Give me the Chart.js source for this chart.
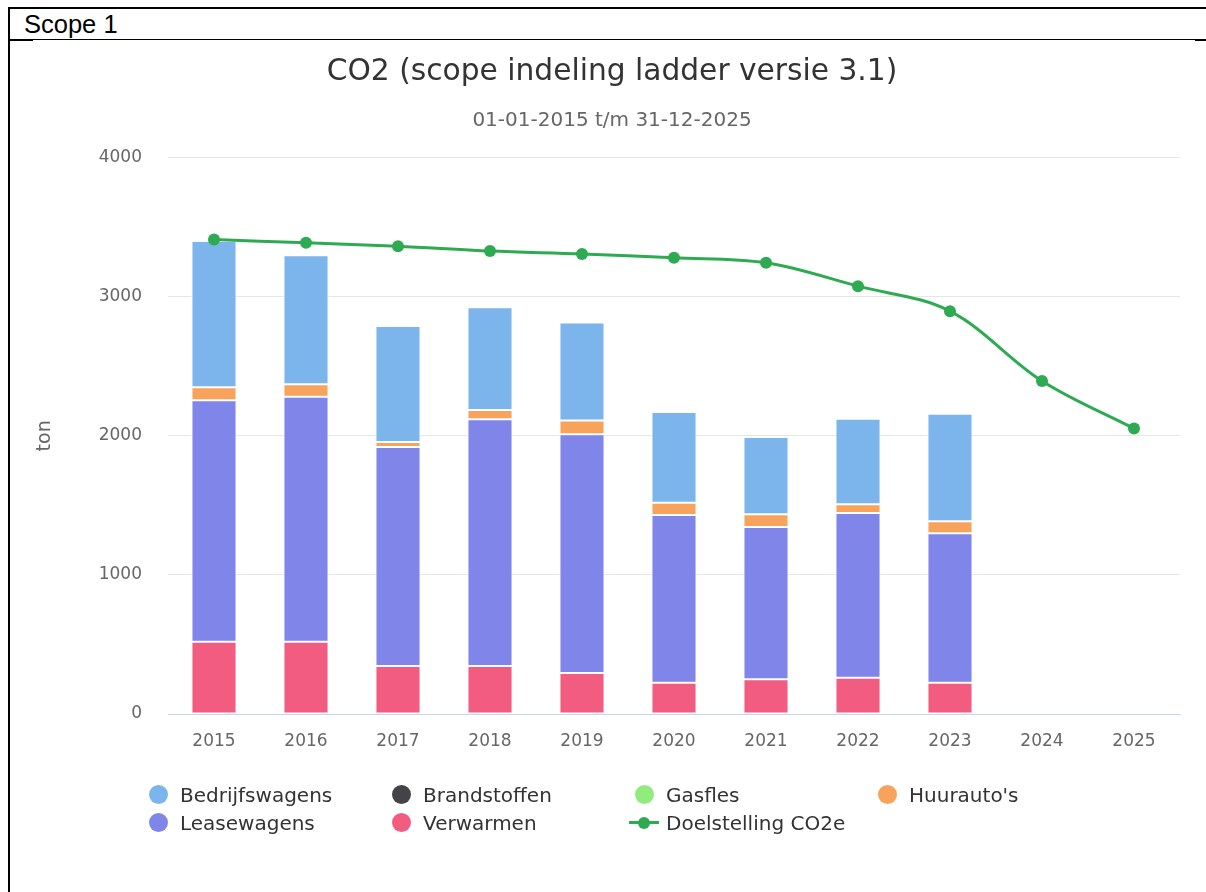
<!DOCTYPE html>
<html>
<head>
<meta charset="utf-8">
<script src="https://cdn.jsdelivr.net/npm/chart.js@4.4.0/dist/chart.umd.min.js"></script>
<style>
	body { margin: 0; background: #fff; width: 1206px; height: 892px; overflow: hidden; position: relative; font-family: "DejaVu Sans", sans-serif; }
	.line { position: absolute; background: #000; }
	#scope { position: absolute; left: 24px; top: 9px; font-family: "Liberation Sans", Arial, sans-serif; font-size: 25.5px; color: #000; line-height: 30px; }
	#wrap { position: absolute; left: 10px; top: 41px; width: 1196px; height: 851px; }
	.item { position: absolute; height: 28px; line-height: 28px; font-size: 20px; color: #333; white-space: nowrap; }
	.dot { position: absolute; width: 19px; height: 19px; border-radius: 50%; left: -9px; top: 4px; }
	.lineMark { position: absolute; width: 30px; height: 3px; left: -15px; top: 12px; }
	.lineMark span { position: absolute; width: 12px; height: 12px; border-radius: 50%; left: 9px; top: -4.5px; }
	.item .txt { position: absolute; left: 22px; top: 0; }
</style>
</head>
<body>
<div class="line" style="left:8px;top:7px;width:1198px;height:2px"></div>
<div class="line" style="left:8px;top:7px;width:2px;height:885px"></div>
<div class="line" style="left:10px;top:39px;width:1186px;height:1px"></div>
<div class="line" style="left:10px;top:40px;width:23px;height:1px"></div>
<div class="line" style="left:1195px;top:39px;width:11px;height:2px"></div>
<div id="scope">Scope 1</div>
<div id="wrap"><canvas id="co2Chart"></canvas></div>
<div id="legend"></div>

<script>
// Data (ton CO2)
const jaren = ["2015", "2016", "2017", "2018", "2019", "2020", "2021", "2022", "2023", "2024", "2025"];
const verwarmen = [520, 520, 345, 345, 295, 225, 250, 260, 225, null, null];
const leasewagens = [1735, 1760, 1575, 1775, 1716, 1205, 1095, 1186, 1075, null, null];
const gasfles = [0, 0, 0, 0, 0, 0, 0, 0, 0, null, null];
const brandstoffen = [0, 0, 0, 0, 0, 0, 0, 0, 0, null, null];
const huurautos = [95, 90, 36, 65, 100, 89, 91, 62, 86, null, null];
const bedrijfswagens = [1050, 928, 834, 739, 704, 653, 555, 615, 773, null, null];
const doelstelling = [3411, 3388, 3363, 3328, 3308, 3280, 3244, 3076, 2896, 2394, 2052];
const yTicks = [0, 1000, 2000, 3000, 4000];

const kleuren = {
	"Bedrijfswagens": "#7cb5ec",
	"Brandstoffen": "#434348",
	"Gasfles": "#90ed7d",
	"Huurauto's": "#f7a35c",
	"Leasewagens": "#8085e9",
	"Verwarmen": "#f15c80",
	"Doelstelling CO2e": "#2eaa52",
};

// Volgorde van de legenda (zoals in het origineel)
const legendaVolgorde = ["Bedrijfswagens", "Brandstoffen", "Gasfles", "Huurauto's", "Leasewagens", "Verwarmen", "Doelstelling CO2e"];

Chart.defaults.font.family = "'DejaVu Sans', sans-serif";

function bar(label, data) {
	return {
		type: "bar",
		label: label,
		data: data,
		backgroundColor: kleuren[label],
		borderColor: "#ffffff",
		borderWidth: 1,
		borderSkipped: false,
		barPercentage: 0.49,
		categoryPercentage: 1,
		order: 1,
	};
}

const ctx = document.getElementById("co2Chart").getContext("2d");

const chart = new Chart(ctx, {
	data: {
		labels: jaren,
		datasets: [
			{
				type: "line",
				label: "Doelstelling CO2e",
				data: doelstelling,
				borderColor: kleuren["Doelstelling CO2e"],
				backgroundColor: kleuren["Doelstelling CO2e"],
				borderWidth: 3,
				pointRadius: 6,
				pointBorderWidth: 0,
				tension: 0.35,
				stack: "doel",
				order: 0,
			},
			bar("Verwarmen", verwarmen),
			bar("Leasewagens", leasewagens),
			bar("Gasfles", gasfles),
			bar("Brandstoffen", brandstoffen),
			bar("Huurauto's", huurautos),
			bar("Bedrijfswagens", bedrijfswagens),
		],
	},
	options: {
		responsive: true,
		maintainAspectRatio: false,
		animation: false,
		layout: { padding: { left: 34, right: 26, top: 0, bottom: 128 } },
		plugins: {
			legend: { display: false },
			tooltip: { enabled: false },
			title: {
				display: true,
				text: "CO2 (scope indeling ladder versie 3.1)",
				color: "#333333",
				font: { size: 29.7, weight: "normal" },
				padding: { top: 13, bottom: 10 },
			},
			subtitle: {
				display: true,
				text: "01-01-2015 t/m 31-12-2025",
				color: "#666666",
				font: { size: 20, weight: "normal" },
				padding: { top: 9, bottom: 25 },
			},
		},
		scales: {
			x: {
				stacked: true,
				grid: { display: false },
				border: { display: true, color: "#ccd6eb", width: 1 },
				ticks: { color: "#666666", font: { size: 17 }, padding: 9 },
				afterFit: function (scale) { scale.height = 50; },
			},
			y: {
				stacked: true,
				min: 0,
				max: 4000,
				afterBuildTicks: function (scale) { scale.ticks = yTicks.map(v => ({ value: v })); },
				grid: { color: "#e6e6e6", drawTicks: false },
				border: { display: false },
				ticks: { color: "#666666", font: { size: 17 }, padding: 26, callback: v => String(v) },
				title: {
					display: true,
					text: "ton",
					color: "#666666",
					font: { size: 19 },
					padding: { top: -10, bottom: 0 },
				},
				afterFit: function (scale) { scale.width = 124; },
			},
		},
	},
});

// HTML legenda, 4 kolommen
const legend = document.getElementById("legend");
legendaVolgorde.forEach(function (naam, i) {
	const kol = i % 4;
	const rij = Math.floor(i / 4);
	const item = document.createElement("div");
	item.className = "item";
	item.style.left = (158 + kol * 243) + "px";
	item.style.top = (781 + rij * 28) + "px";
	if (naam === "Doelstelling CO2e") {
		item.innerHTML = '<div class="lineMark" style="background:' + kleuren[naam] + '"><span style="background:' + kleuren[naam] + '"></span></div>';
	} else {
		item.innerHTML = '<div class="dot" style="background:' + kleuren[naam] + '"></div>';
	}
	const txt = document.createElement("div");
	txt.className = "txt";
	txt.textContent = naam;
	item.appendChild(txt);
	legend.appendChild(item);
});
</script>
</body>
</html>
